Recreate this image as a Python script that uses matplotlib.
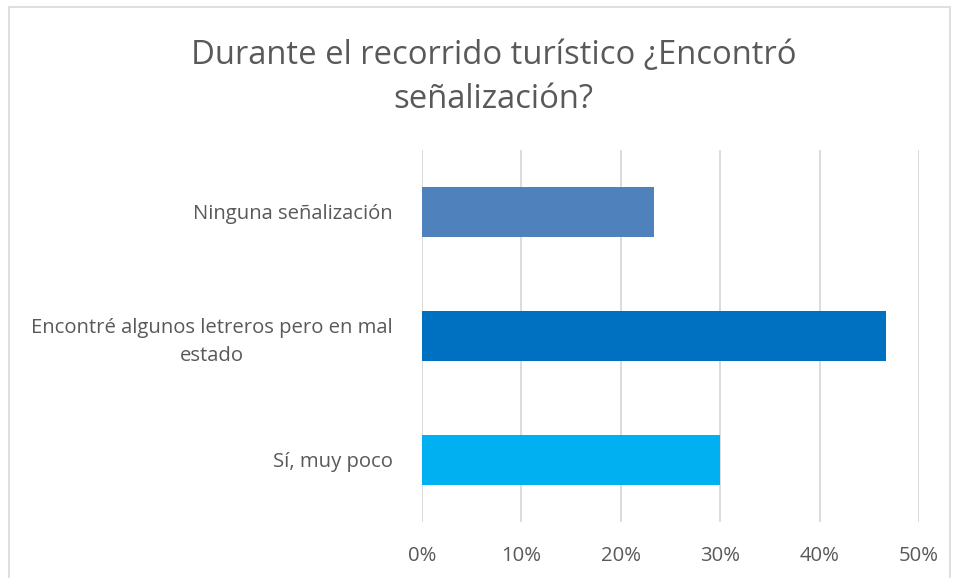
import numpy as np
import matplotlib.pyplot as plt
from matplotlib.patches import Rectangle
from matplotlib.ticker import FuncFormatter

# data (bottom to top, as Excel draws it)
categorias = ['Sí, muy poco', 'Encontré algunos letreros pero en mal\nestado', 'Ninguna señalización']
porcentajes = [30.0, 46.7, 23.3]
colores = ['#00B0F0', '#0070C0', '#4F81BD']
ticks = [0, 10, 20, 30, 40, 50]

plt.rcParams['font.family'] = ['Open Sans', 'DejaVu Sans']
gris = '#595959'

fig = plt.figure(figsize=(9.57, 5.78), dpi=100)
ax = fig.add_axes([0.441, 0.097, 0.5193, 0.6435])

y = np.arange(len(categorias))
ax.barh(y, porcentajes, height=0.4, color=colores, zorder=3)

ax.set_xlim(0, 50)
ax.set_ylim(-0.5, 2.5)
ax.set_xticks(ticks)
ax.xaxis.set_major_formatter(FuncFormatter(lambda v, p: f'{v:.0f}%'))
ax.set_yticks(y)
ax.set_yticklabels(categorias, multialignment='center', linespacing=1.5)
ax.grid(axis='x', color='#D9D9D9', linewidth=1.3, zorder=0)
for s in ax.spines.values():
    s.set_visible(False)
ax.tick_params(axis='both', length=0, colors=gris, labelsize=14.6)
ax.tick_params(axis='y', pad=21)
ax.tick_params(axis='x', pad=17)

fig.text(0.516, 0.866, 'Durante el recorrido turístico ¿Encontró\nseñalización?',
         ha='center', va='center', fontsize=23.6, color=gris, linespacing=1.45)

# chart border
fig.patches.append(Rectangle((9 / 957, -0.05), 941 / 957, 1 - 7 / 578 + 0.05,
                             transform=fig.transFigure, fill=False,
                             edgecolor='#D9D9D9', linewidth=1.2))

fig.savefig('out.png', dpi=100, facecolor='white')
